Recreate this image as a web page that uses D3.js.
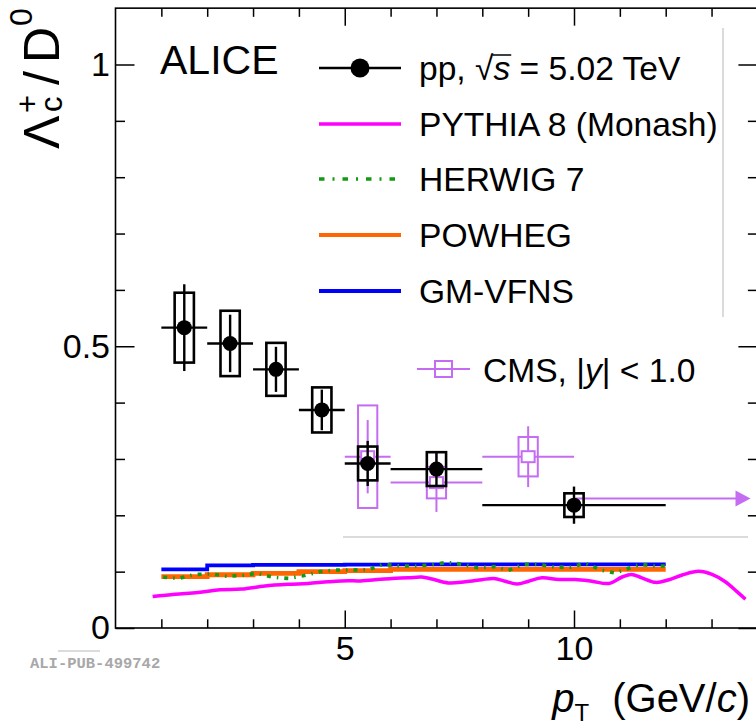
<!DOCTYPE html>
<html>
<head>
<meta charset="utf-8">
<script src="https://cdn.jsdelivr.net/npm/d3@7"></script>
<style>
  html, body { margin: 0; padding: 0; background: #fff; }
  svg { display: block; }
  text { font-family: "Liberation Sans", Arial, Helvetica, sans-serif; }
</style>
</head>
<body>
<svg id="chart" width="756" height="728"></svg>
<script>
// ---- ALICE pp 5.02 TeV, Lambda_c+/D0 ratio ----
const alicePtLow  = [1, 2, 3, 4, 5, 6, 8];
const alicePtHigh = [2, 3, 4, 5, 6, 8, 12];
const alicePtCenter = [1.5, 2.5, 3.5, 4.5, 5.5, 7, 10];
const aliceRatio = [0.533, 0.505, 0.459, 0.387, 0.292, 0.282, 0.218];
const aliceStat  = [0.077, 0.051, 0.040, 0.036, 0.040, 0.031, 0.033];
const aliceSyst  = [0.062, 0.058, 0.047, 0.040, 0.030, 0.030, 0.021];

// ---- CMS, |y| < 1.0 ----
const cmsPtLow  = [5, 6, 8];
const cmsPtHigh = [6, 8, 10];
const cmsPtCenter = [5.5, 7, 9];
const cmsRatio = [0.304, 0.258, 0.304];
const cmsStat  = [0.065, 0.052, 0.054];
const cmsSyst  = [0.091, 0.028, 0.035];
// last CMS bin starts at 10 GeV/c and runs past the axis range
const cmsOverflowPtLow = 10;
const cmsOverflowRatio = 0.230;
const cmsOverflowArrowEnd = 13.85;

// ---- model predictions ----
const pythiaPt = [0.81, 1.3, 1.8, 2.28, 2.75, 3.26, 3.77, 4.2, 4.64, 5.08, 5.3, 5.66, 6.03, 6.39, 6.68, 6.9,
  7.26, 7.63, 7.99, 8.25, 8.5, 8.76, 9.01, 9.3, 9.67, 10.03, 10.39, 10.76, 11.05, 11.25, 11.48, 11.78,
  12.07, 12.36, 12.72, 13.01, 13.3, 13.56, 13.74];
const pythiaRatio = [0.056, 0.060, 0.063, 0.068, 0.069, 0.0745, 0.0775, 0.079, 0.082, 0.084, 0.0835, 0.0857,
  0.088, 0.089, 0.0905, 0.087, 0.080, 0.082, 0.0857, 0.088, 0.083, 0.078, 0.083, 0.089, 0.086, 0.086, 0.083,
  0.079, 0.0905, 0.095, 0.089, 0.081, 0.0857, 0.094, 0.1005, 0.095, 0.082, 0.064, 0.051];

const herwigPt = [1.04, 1.39, 1.72, 2.08, 2.42, 2.75, 3.08, 3.43, 3.77, 4.12, 4.46, 4.8, 5.19, 5.52, 5.84,
  6.21, 6.54, 6.89, 7.23, 7.57, 7.9, 8.25, 8.57, 8.89, 9.23, 9.58, 9.92, 10.25, 10.58, 10.9, 11.12, 11.45,
  11.78, 12.0];
const herwigRatio = [0.090, 0.088, 0.095, 0.096, 0.092, 0.093, 0.097, 0.090, 0.088, 0.093, 0.100, 0.103,
  0.103, 0.1035, 0.113, 0.110, 0.110, 0.112, 0.1165, 0.113, 0.107, 0.109, 0.102, 0.113, 0.113, 0.108, 0.108,
  0.115, 0.103, 0.0975, 0.104, 0.113, 0.110, 0.110];

const modelBinEdges = [1, 2, 3, 4, 5, 6, 8, 12];
const powhegRatio = [0.091, 0.0945, 0.097, 0.100, 0.1017, 0.104, 0.104];
const gmvfnsRatio = [0.104, 0.111, 0.112, 0.112, 0.1125, 0.113, 0.113];

// ---- axes ----
const xMajorTicks = [5, 10];
const xMinorTicks = [1, 2, 3, 4, 6, 7, 8, 9, 11, 12, 13];
const yMajorTicks = [0, 0.5, 1];
const yMinorTicks = [0.1, 0.2, 0.3, 0.4, 0.6, 0.7, 0.8, 0.9];

const legendLabels = ["PYTHIA 8 (Monash)", "HERWIG 7", "POWHEG", "GM-VFNS"];
const cmsLabel = "CMS, ";

// ---- styling ----
const BLACK = "#000";
const CMS_COLOR = "#c46cf2";
const PYTHIA_COLOR = "#ff00ff";
const HERWIG_COLOR = "#139a13";
const POWHEG_COLOR = "#ff6600";
const GMVFNS_COLOR = "#0000ff";
const FRAME_GRAY = "#cfcfcf";
const SYST_HALF_WIDTH = 0.21;   // half width of systematic boxes, in GeV/c

const svg = d3.select("#chart");
const x = d3.scaleLinear().domain([0, 14]).range([115.5, 757.4]);
const y = d3.scaleLinear().domain([0, 1.1]).range([628, 8.15]);
const [X0, X1] = x.range();
const [Y0, Y1] = y.range();

// light outlines left from legend boxes
const faint = svg.append("g").attr("stroke", FRAME_GRAY).attr("stroke-width", 1.5);
faint.append("line").attr("x1", 723).attr("x2", 723).attr("y1", 28).attr("y2", 317);
faint.append("line").attr("x1", 343).attr("x2", 748).attr("y1", 537).attr("y2", 537);
faint.append("line").attr("x1", 58).attr("x2", 100).attr("y1", 651).attr("y2", 651);

// ---- models ----
const models = svg.append("g").attr("fill", "none");
const smooth = d3.line().x(d => x(d[0])).y(d => y(d[1])).curve(d3.curveCatmullRom.alpha(0.5));
const straight = d3.line().x(d => x(d[0])).y(d => y(d[1]));
const step = d3.line().x(d => x(d[0])).y(d => y(d[1])).curve(d3.curveStepAfter);
const stepPoints = vals => vals.map((v, i) => [modelBinEdges[i], v]).concat([[modelBinEdges[vals.length], vals[vals.length - 1]]]);

models.append("path").attr("d", smooth(d3.zip(pythiaPt, pythiaRatio)))
  .attr("stroke", PYTHIA_COLOR).attr("stroke-width", 3.5);
models.append("path").attr("d", step(stepPoints(gmvfnsRatio)))
  .attr("stroke", GMVFNS_COLOR).attr("stroke-width", 3.8);
models.append("path").attr("d", step(stepPoints(powhegRatio)))
  .attr("stroke", POWHEG_COLOR).attr("stroke-width", 4.8);
models.append("path").attr("d", straight(d3.zip(herwigPt, herwigRatio)))
  .attr("stroke", HERWIG_COLOR).attr("stroke-width", 3.6).attr("stroke-dasharray", "4,6,1.5,6");

// ---- CMS points ----
const cms = svg.append("g").attr("stroke", CMS_COLOR).attr("stroke-width", 2).attr("fill", "none");
cmsRatio.forEach((v, i) => {
  const cx = x(cmsPtCenter[i]);
  const half = x(cmsPtCenter[i] + SYST_HALF_WIDTH) - cx;
  cms.append("rect").attr("x", cx - half).attr("width", 2 * half)
    .attr("y", y(v + cmsSyst[i])).attr("height", y(v - cmsSyst[i]) - y(v + cmsSyst[i]));
  cms.append("line").attr("x1", x(cmsPtLow[i])).attr("x2", x(cmsPtHigh[i])).attr("y1", y(v)).attr("y2", y(v));
  cms.append("line").attr("x1", cx).attr("x2", cx).attr("y1", y(v + cmsStat[i])).attr("y2", y(v - cmsStat[i]));
  cms.append("rect").attr("x", cx - 6.5).attr("y", y(v) - 5.5).attr("width", 13).attr("height", 11).attr("fill", "#fff");
});
const arrowY = y(cmsOverflowRatio);
const arrowTip = x(cmsOverflowArrowEnd);
cms.append("line").attr("x1", x(cmsOverflowPtLow)).attr("x2", arrowTip - 10).attr("y1", arrowY).attr("y2", arrowY);
cms.append("path").attr("d", `M${arrowTip},${arrowY} L${arrowTip - 15},${arrowY - 8} L${arrowTip - 15},${arrowY + 8} Z`)
  .attr("fill", CMS_COLOR).attr("stroke", "none");

// ---- ALICE points ----
const alice = svg.append("g").attr("stroke", BLACK).attr("fill", "none");
aliceRatio.forEach((v, i) => {
  const cx = x(alicePtCenter[i]);
  const half = x(alicePtCenter[i] + SYST_HALF_WIDTH) - cx;
  alice.append("rect").attr("x", cx - half).attr("width", 2 * half)
    .attr("y", y(v + aliceSyst[i])).attr("height", y(v - aliceSyst[i]) - y(v + aliceSyst[i]))
    .attr("stroke-width", 2.6);
  alice.append("line").attr("x1", x(alicePtLow[i])).attr("x2", x(alicePtHigh[i])).attr("y1", y(v)).attr("y2", y(v))
    .attr("stroke-width", 2.4);
  alice.append("line").attr("x1", cx).attr("x2", cx).attr("y1", y(v + aliceStat[i])).attr("y2", y(v - aliceStat[i]))
    .attr("stroke-width", 2.4);
  alice.append("circle").attr("cx", cx).attr("cy", y(v)).attr("r", 7.5).attr("fill", BLACK).attr("stroke", "none");
});

// ---- frame and axes ----
const axes = svg.append("g").attr("class", "axes");
function styleAxis(g) {
  g.select(".domain").remove();
  g.selectAll(".tick line").attr("stroke", BLACK).attr("stroke-width", 1.5);
  g.selectAll(".tick text").attr("fill", BLACK).style("font-size", "34px")
    .style("font-family", "'Liberation Sans', Arial, sans-serif");
}
axes.append("g").attr("transform", `translate(0,${Y0})`)
  .call(d3.axisBottom(x).tickValues(xMajorTicks).tickSizeInner(-17.5).tickSizeOuter(0).tickPadding(8).tickFormat(d3.format("d")))
  .call(styleAxis);
axes.append("g").attr("transform", `translate(0,${Y0})`)
  .call(d3.axisBottom(x).tickValues(xMinorTicks).tickSizeInner(-8.7).tickSizeOuter(0).tickFormat(""))
  .call(styleAxis);
axes.append("g").attr("transform", `translate(0,${Y1})`)
  .call(d3.axisTop(x).tickValues(xMajorTicks).tickSizeInner(-17.5).tickSizeOuter(0).tickFormat(""))
  .call(styleAxis);
axes.append("g").attr("transform", `translate(0,${Y1})`)
  .call(d3.axisTop(x).tickValues(xMinorTicks).tickSizeInner(-8.7).tickSizeOuter(0).tickFormat(""))
  .call(styleAxis);
axes.append("g").attr("transform", `translate(${X0},0)`)
  .call(d3.axisLeft(y).tickValues(yMajorTicks).tickSizeInner(-19).tickSizeOuter(0).tickPadding(5.5).tickFormat(d3.format("")))
  .call(styleAxis);
axes.append("g").attr("transform", `translate(${X0},0)`)
  .call(d3.axisLeft(y).tickValues(yMinorTicks).tickSizeInner(-9.5).tickSizeOuter(0).tickFormat(""))
  .call(styleAxis);
axes.append("g").attr("transform", `translate(${X1},0)`)
  .call(d3.axisRight(y).tickValues(yMajorTicks).tickSizeInner(-19).tickSizeOuter(0).tickFormat(""))
  .call(styleAxis);
axes.append("g").attr("transform", `translate(${X1},0)`)
  .call(d3.axisRight(y).tickValues(yMinorTicks).tickSizeInner(-9.5).tickSizeOuter(0).tickFormat(""))
  .call(styleAxis);
axes.append("rect").attr("x", X0).attr("y", Y1).attr("width", X1 - X0).attr("height", Y0 - Y1)
  .attr("fill", "none").attr("stroke", BLACK).attr("stroke-width", 1.6);

// ---- axis titles ----
const xt = svg.append("text").attr("x", 750).attr("y", 712).attr("text-anchor", "end")
  .style("font-size", "40px").attr("fill", BLACK);
xt.append("tspan").style("font-style", "italic").text("p");
xt.append("tspan").style("font-size", "24px").attr("dy", 9).text("T");
xt.append("tspan").attr("dy", -9).attr("dx", 12).text(" (GeV/");
xt.append("tspan").style("font-style", "italic").text("c");
xt.append("tspan").text(")");

const yt = svg.append("g").attr("transform", "translate(59,149) rotate(-90)").attr("fill", BLACK);
yt.append("text").attr("x", 0).attr("y", 0).style("font-size", "50px").text("Λ");
yt.append("text").attr("x", 37).attr("y", 3).style("font-size", "31px").text("c");
yt.append("text").attr("x", 36).attr("y", -21).style("font-size", "31px").text("+");
yt.append("text").attr("x", 64).attr("y", 0).style("font-size", "50px").text("/");
yt.append("text").attr("x", 86).attr("y", 0).style("font-size", "50px").text("D");
yt.append("text").attr("x", 123).attr("y", -27).style("font-size", "32px").text("0");

// ---- labels ----
svg.append("text").attr("x", 160).attr("y", 74).style("font-size", "41px").attr("fill", BLACK).text("ALICE");

svg.append("text").attr("x", 30).attr("y", 668)
  .style("font-family", "'Liberation Mono', 'DejaVu Sans Mono', monospace").style("font-weight", "bold")
  .style("font-size", "15.5px").attr("fill", "#a8a8a8").text("ALI-PUB-499742");

// ---- legend ----
const legend = svg.append("g");
const legX1 = 319, legX2 = 401, legText = 419;
const rowY = [68, 124, 179, 235, 291];
const legendFont = "33.6px";

// data entry
legend.append("line").attr("x1", legX1).attr("x2", legX2).attr("y1", rowY[0]).attr("y2", rowY[0])
  .attr("stroke", BLACK).attr("stroke-width", 2.4);
legend.append("circle").attr("cx", (legX1 + legX2) / 2).attr("cy", rowY[0]).attr("r", 9.5).attr("fill", BLACK);
const ppText = legend.append("text").attr("x", legText).attr("y", rowY[0] + 12).style("font-size", legendFont).attr("fill", BLACK);
ppText.append("tspan").text("pp, √");
ppText.append("tspan").style("font-style", "italic").text("s");
ppText.append("tspan").text(" = 5.02 TeV");
{
  const node = ppText.node();
  const sIdx = "pp, √".length;
  const ext = node.getExtentOfChar(sIdx);
  const rootExt = node.getExtentOfChar(sIdx - 1);
  legend.append("line").attr("x1", rootExt.x + rootExt.width - 1).attr("x2", ext.x + ext.width + 1)
    .attr("y1", rowY[0] - 13).attr("y2", rowY[0] - 13).attr("stroke", BLACK).attr("stroke-width", 1.5);
}

const modelStyles = [
  { color: PYTHIA_COLOR, width: 3.5, dash: null },
  { color: HERWIG_COLOR, width: 3.4, dash: "5.5,8,2,8" },
  { color: POWHEG_COLOR, width: 4, dash: null },
  { color: GMVFNS_COLOR, width: 3.8, dash: null }
];
legendLabels.forEach((label, i) => {
  const ry = rowY[i + 1];
  const st = modelStyles[i];
  const ln = legend.append("line").attr("x1", legX1).attr("x2", legX2).attr("y1", ry).attr("y2", ry)
    .attr("stroke", st.color).attr("stroke-width", st.width);
  if (st.dash) ln.attr("stroke-dasharray", st.dash);
  legend.append("text").attr("x", legText).attr("y", ry + 12).style("font-size", legendFont).attr("fill", BLACK).text(label);
});

// CMS entry
const cmsRow = 369;
legend.append("line").attr("x1", 417).attr("x2", 470).attr("y1", cmsRow).attr("y2", cmsRow)
  .attr("stroke", CMS_COLOR).attr("stroke-width", 2);
legend.append("rect").attr("x", 435).attr("y", cmsRow - 8).attr("width", 17).attr("height", 16)
  .attr("fill", "none").attr("stroke", CMS_COLOR).attr("stroke-width", 2);
const cmsText = legend.append("text").attr("x", 483).attr("y", cmsRow + 13).style("font-size", legendFont).attr("fill", BLACK);
cmsText.append("tspan").text(cmsLabel + "|");
cmsText.append("tspan").style("font-style", "italic").text("y");
cmsText.append("tspan").text("| < 1.0");
</script>
</body>
</html>
